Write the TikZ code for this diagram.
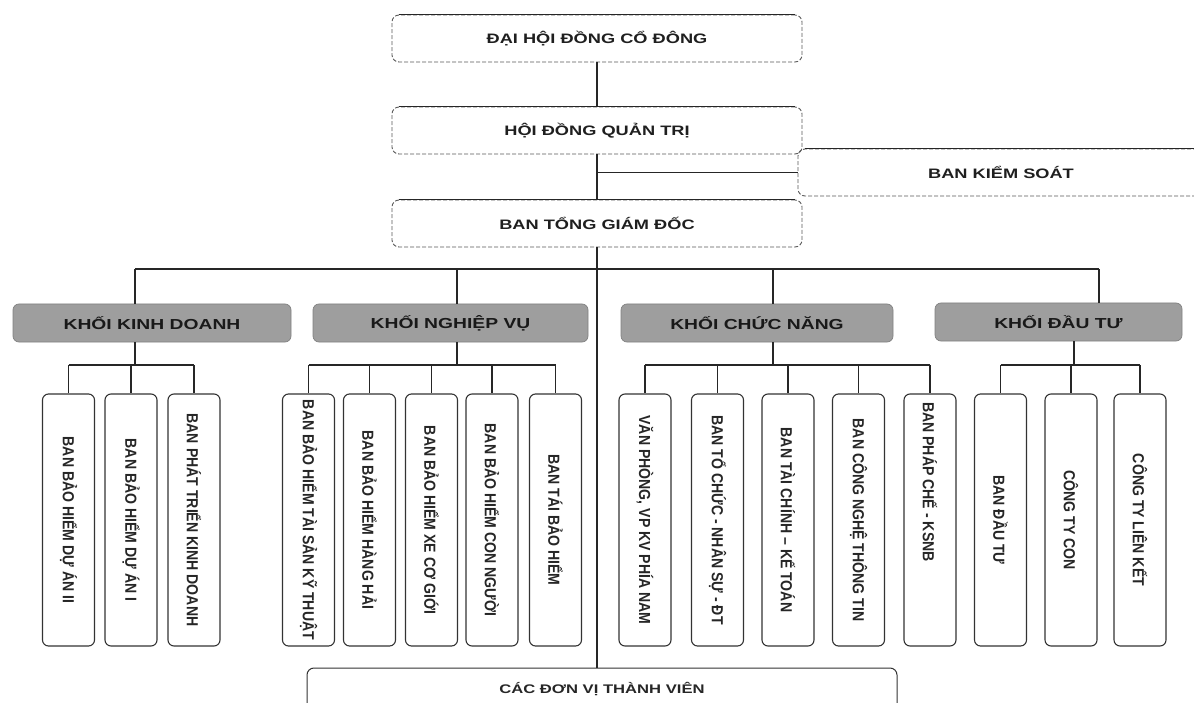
\documentclass[tikz,border=0pt]{standalone}
\usepackage{fontspec}
\setmainfont{Liberation Sans}
\newfontfamily\hfont{Liberation Sans Bold}[FakeStretch=1.33]
\newfontfamily\vfont{Liberation Sans Bold}[FakeStretch=0.88]
\begin{document}
\begin{tikzpicture}[x=1pt,y=-1pt,
  topbox/.style={rounded corners=7pt, draw=black!65, dash pattern=on 4pt off 2pt, line width=0.9pt,
    minimum width=410pt, minimum height=47pt, inner sep=0pt, text=black!88,
    font=\hfont\fontsize{13.7}{14}\selectfont},
  topedge/.style={draw=black!85, line width=1pt},
  khoi/.style={rounded corners=6pt, fill=black!38, draw=black!50, line width=0.7pt,
    minimum height=38pt, inner sep=0pt, text=black!90,
    font=\hfont\fontsize{14.5}{15}\selectfont},
  unit/.style={rounded corners=6pt, draw=black!80, line width=1.1pt, fill=white,
    minimum width=52pt, minimum height=252pt, inner sep=0pt, text=black!85,
    font=\vfont\fontsize{16}{16}\selectfont},
  cdvbox/.style={rounded corners=7pt, draw=black!80, line width=1pt,
    minimum width=590pt, minimum height=42pt, inner sep=0pt, text=black!85,
    font=\hfont\fontsize{12.5}{13}\selectfont},
  link/.style={draw=black!85, line width=1.1pt}
]
\useasboundingbox (0,0) rectangle (1194,703);

% top level
\node[topbox] (dh) at (597,38.5) {ĐẠI HỘI ĐỒNG CỔ ĐÔNG};
\node[topbox] (hd) at (597,130.5) {HỘI ĐỒNG QUẢN TRỊ};
\node[topbox] (bt) at (597,223.5) {BAN TỔNG GIÁM ĐỐC};
\node[topbox, minimum width=406pt] (bks) at (1001,172.5) {BAN KIỂM SOÁT};
\node[cdvbox] (cdv) at (602,689) {CÁC ĐƠN VỊ THÀNH VIÊN};
\foreach \n in {dh,hd,bt,bks}{
  \draw[topedge] ([xshift=7pt]\n.north west) -- ([xshift=-7pt]\n.north east);
}

\draw[link] (dh.south) -- (hd.north);
\draw[link] (hd.south) -- (bt.north);
\coordinate (bksj) at (597,172.5);
\draw[link] (bksj) -- (bks.west);
\draw[link] (bt.south) -- (bt.south |- cdv.north);

% khoi boxes
\node[khoi, minimum width=278pt] (kkd) at (152,323) {KHỐI KINH DOANH};
\node[khoi, minimum width=275pt] (knv) at (450.5,323) {KHỐI NGHIỆP VỤ};
\node[khoi, minimum width=272pt] (kcn) at (757,323) {KHỐI CHỨC NĂNG};
\node[khoi, minimum width=247pt] (kdt) at (1058.5,322) {KHỐI ĐẦU TƯ};

\coordinate (b1) at (135,269);
\coordinate (b2) at (457,269);
\coordinate (b3) at (773,269);
\coordinate (b4) at (1099,269);
\draw[link] (b1) -- (b4);
\draw[link] (b1) -- (b1 |- kkd.north);
\draw[link] (b2) -- (b2 |- knv.north);
\draw[link] (b3) -- (b3 |- kcn.north);
\draw[link] (b4) -- (b4 |- kdt.north);

% units
\node[unit] (a1) at (68.5,520) {\rotatebox{-90}{BAN BẢO HIỂM DỰ ÁN II}};
\node[unit] (a2) at (131,520) {\rotatebox{-90}{BAN BẢO HIỂM DỰ ÁN I}};
\node[unit] (a3) at (194,520) {\rotatebox{-90}{BAN PHÁT TRIỂN KINH DOANH}};

\node[unit] (n1) at (308.5,520) {\rotatebox{-90}{BAN BẢO HIỂM TÀI SẢN KỸ THUẬT}};
\node[unit] (n2) at (369.5,520) {\rotatebox{-90}{BAN BẢO HIỂM HÀNG HẢI}};
\node[unit] (n3) at (431.5,520) {\rotatebox{-90}{BAN BẢO HIỂM XE CƠ GIỚI}};
\node[unit] (n4) at (492,520) {\rotatebox{-90}{BAN BẢO HIỂM CON NGƯỜI}};
\node[unit] (n5) at (555.5,520) {\rotatebox{-90}{BAN TÁI BẢO HIỂM}};

\node[unit] (c1) at (645,520) {\rotatebox{-90}{VĂN PHÒNG, VP KV PHÍA NAM}};
\node[unit] (c2) at (717.5,520) {\rotatebox{-90}{BAN TỔ CHỨC - NHÂN SỰ - ĐT}};
\node[unit] (c3) at (788,520) {\rotatebox{-90}{BAN TÀI CHÍNH – KẾ TOÁN}};
\node[unit] (c4) at (858.5,520) {\rotatebox{-90}{BAN CÔNG NGHỆ THÔNG TIN}};
\node[unit] (c5) at (930,520) {\rotatebox{-90}{BAN PHÁP CHẾ - KSNB\hspace{76pt}}};

\node[unit] (d1) at (1000.5,520) {\rotatebox{-90}{BAN ĐẦU TƯ}};
\node[unit] (d2) at (1071,520) {\rotatebox{-90}{CÔNG TY CON}};
\node[unit] (d3) at (1140,520) {\rotatebox{-90}{CÔNG TY LIÊN KẾT}};

% sub bars
\coordinate (s1) at (135,365);
\coordinate (s2) at (457,365);
\coordinate (s3) at (773,365);
\coordinate (s4) at (1074,365);
\draw[link] (s1 |- kkd.south) -- (s1);
\draw[link] (s2 |- knv.south) -- (s2);
\draw[link] (s3 |- kcn.south) -- (s3);
\draw[link] (s4 |- kdt.south) -- (s4);

\draw[link] (a1.north |- s1) -- (a3.north |- s1);
\draw[link] (n1.north |- s2) -- (n5.north |- s2);
\draw[link] (c1.north |- s3) -- (c5.north |- s3);
\draw[link] (d1.north |- s4) -- (d3.north |- s4);

\foreach \u in {a1,a2,a3}{\draw[link] (\u.north |- s1) -- (\u.north);}
\foreach \u in {n1,n2,n3,n4,n5}{\draw[link] (\u.north |- s2) -- (\u.north);}
\foreach \u in {c1,c2,c3,c4,c5}{\draw[link] (\u.north |- s3) -- (\u.north);}
\foreach \u in {d1,d2,d3}{\draw[link] (\u.north |- s4) -- (\u.north);}
\end{tikzpicture}
\end{document}
